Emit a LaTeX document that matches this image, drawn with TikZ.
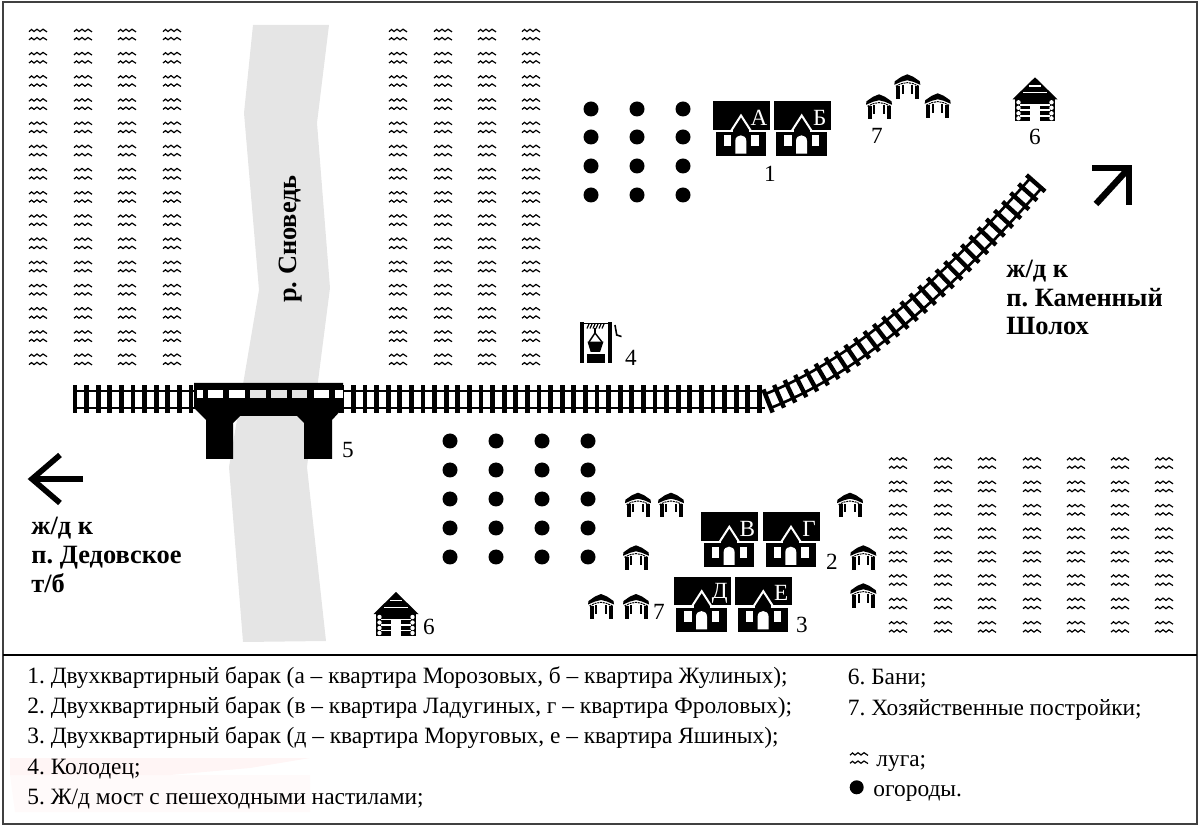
\documentclass[tikz,border=0pt]{standalone}
\usepackage{fontspec}
\setmainfont{Liberation Serif}
\usetikzlibrary{arrows.meta,decorations.markings}
\definecolor{rivergray}{gray}{0.9}
\frenchspacing

\begin{document}
\begin{tikzpicture}[
	x=0.5pt,y=-0.5pt,
	num/.style={font=\fontsize{11.6}{13}\selectfont,inner sep=0pt},
	bigtext/.style={font=\fontsize{13.2}{15}\selectfont\bfseries,anchor=base west,inner sep=0pt},
	legendtext/.style={font=\fontsize{11.69}{13}\selectfont,anchor=base west,inner sep=0pt},
	rails/.style 2 args={line width=#1,double=white,double distance=#2},
	sleepers/.style n args={3}{decoration={markings,mark=between positions 0 and 1 step #1 with {\fill (-#2,-#3) rectangle (#2,#3);}},decorate},
	meadow/.pic={
		\draw[line width=0.6pt] (-9,-2.8)--(-6.5,-5)--(-4,-3)--(-1,-5.3)--(2,-3)--(5,-5.3)--(9,-2.6);
		\draw[line width=0.6pt] (-9,5.3)--(-6.5,3.3)--(-4,5.3)--(-1,3)--(2,5.3)--(5,3)--(9,5.6);
	},
	barak/.pic={
		\fill (0,0) rectangle (57,28.6);
		\fill (2.5,31) rectangle (53,55);
		\fill (20,28) rectangle (36,32);
		\draw[white,line width=1pt] (18,30) -- (28,14.5) -- (38,30);
		\fill[white] (10.7,34.3) rectangle (18,45.3);
		\fill[white] (38.3,34.3) rectangle (45.7,45.3);
		\fill[white] (22.3,52.7) -- (22.3,40) .. controls (22.3,32.5) and (33.3,32.5) .. (33.3,40) -- (33.3,52.7) -- cycle;
		\node[white,font=\fontsize{11.6}{13}\selectfont,inner sep=0pt] (letter) at (46,16.5) {#1};
	},
	shed/.pic={
		\fill (0,0)--(6,2.5)--(12.5,7)--(13,10.5)--(6,7.5)--(0,6)--(-6,7.5)--(-13,10.5)--(-12.5,7)--(-6,2.5)--cycle;
		\draw[line width=0.5pt,dash pattern=on 1pt off 0.4pt] (-11.5,12)--(-6,9.4)--(0,8.3)--(6,9.4)--(11.5,12);
		\fill (-11.3,11.5) rectangle (-7.3,24.7);
		\fill (-5.7,11) rectangle (-3.6,19.7);
		\fill (3.5,11) rectangle (5.6,19.7);
		\fill (7.7,11.5) rectangle (11.7,24.7);
	},
	banya/.pic={
		\fill (0,0)--(22.5,22)--(-22.5,22)--cycle;
		\fill[white] (-6,8) rectangle (6,9.4);
		\fill[white] (-12,14.5) rectangle (12,16);
		\fill (-20,22) rectangle (20,43.5);
		\foreach \y in {27.5,33,38.5}{
			\fill[white] (-15,\y-.8) rectangle (15,\y+.8);
		}
		\foreach \y in {25,30.5,36,41}{
			\fill[white] (-16.5,\y) circle[radius=2.2];
			\fill[white] (16.5,\y) circle[radius=2.2];
		}
		\fill[white] (-5,28) rectangle (5,43.5);
	}
	]

	\useasboundingbox (0,0) rectangle (1200,828);

	% След водяного знака
	\fill[red!2] (10,775)--(310,775)--(310,812)--(15,812)--cycle;
	\fill[red!4] (10,758)--(310,758)--(250,768)--(170,775)--(10,775)--cycle;

	% Река
	\fill[rivergray] (253,25)--(329,25)--(317,123)--(330,288)--(307,467)--(326,641)--(243,642)--(229,467)--(259,290)--(244,113)--cycle;
	\node[bigtext,anchor=center,rotate=90] (river) at (291,239) {р. Сноведь};

	% Луга
	\foreach \x in {38,83,127,172,398,443,487,531}
		\foreach \k in {0,...,14}{
			\pic at (\x,34.5+23.2*\k) {meadow};
		}
	\foreach \x in {898,943,987,1032,1076,1120,1164}
		\foreach \k in {0,...,7}{
			\pic at (\x,463+23.4*\k) {meadow};
		}

	% Огороды
	\foreach \x in {591,637,683}
		\foreach \y in {109,137,166,195}{
			\fill (\x,\y) circle[radius=7.5];
		}
	\foreach \x in {450,496,542,588}
		\foreach \y in {441,470,499,528,557}{
			\fill (\x,\y) circle[radius=7.5];
		}

	% Железная дорога
	\coordinate (railW) at (75,399.5);
	\coordinate (railM) at (765,399.5);
	\coordinate (curveS) at (768,401);
	\coordinate (curveE) at (1036,183);
	\draw[rails={1.3pt}{7.3pt}] (railW) -- (railM);
	\fill[sleepers={5.8pt}{1.2pt}{7pt}] (railW) -- (railM);
	\draw[rails={1.4pt}{6pt}] (curveS) .. controls (850,368) and (930,303) .. (curveE);
	\fill[sleepers={6pt}{1.1pt}{6.2pt}] (curveS) .. controls (850,368) and (930,303) .. (curveE);

	% Мост
	\fill (194,383)--(343,383)--(343,408)--(332,420)--(332,459)--(304,459)--(304,423)--(297,416)--(240,416)--(233,423)--(233,459)--(206,459)--(206,420)--(194,408)--cycle;
	\foreach \a/\b/\c in {197/203/white,208/223/white,229/245/white,250/266/rivergray,271/287/rivergray,292/307/rivergray,314/329/white,335/343/white}{
		\fill[\c] (\a,390) rectangle (\b,398.5);
	}

	% Бараки
	\pic (houseA) at (713,101) {barak=А};
	\pic (houseB) at (773.7,101) {barak=Б};
	\pic (houseV) at (701.3,512.3) {barak=В};
	\pic (houseG) at (763,512.3) {barak=Г};
	\pic (houseD) at (673.7,576.7) {barak=Д};
	\pic (houseE) at (735.3,576.7) {barak=Е};

	% Постройки
	\foreach \x/\y in {879/94.3,907.3/74.3,937.7/93.3,638/492.7,671/492.7,850/492.7,636/545.3,863.3/545.3,601/594,636/594,863.3/583.3}{
		\pic at (\x,\y) {shed};
	}

	% Бани
	\pic at (1035,77.3) {banya};
	\pic at (396,592) {banya};

	% Колодец
	\fill (580,321.7) rectangle (584,363.3);
	\fill (608.3,321.7) rectangle (612.3,363.3);
	\fill (584,323) rectangle (608.3,324.5);
	\foreach \x in {587,590,593,596,599,602}{
		\draw[line width=0.6pt] (\x,328.5) -- (\x+2,324);
	}
	\draw[line width=0.7pt] (595,328) -- (595,334);
	\draw[line width=0.7pt] (589,342) -- (595,333) -- (602,342);
	\fill (587.5,341.7)--(603.5,341.7)--(600,352)--(590.7,352)--cycle;
	\fill (586.7,354.3) rectangle (605,363.3);
	\draw[line width=0.8pt] (615,325)--(616.7,335)--(621.5,336.5);

	% Подписи
	\node[num] (n1) at (770,174) {1};
	\node[num] (n7a) at (877,136) {7};
	\node[num] (n6a) at (1035,137) {6};
	\node[num] (n4) at (631,358) {4};
	\node[num] (n5) at (348,450) {5};
	\node[num] (n6b) at (429,627) {6};
	\node[num] (n7b) at (659,612) {7};
	\node[num] (n2) at (832,562) {2};
	\node[num] (n3) at (802,625) {3};

	\node[bigtext] (toK1) at (1006,278) {ж/д к};
	\node[bigtext] (toK2) at (1006,307) {п. Каменный};
	\node[bigtext] (toK3) at (1006,335) {Шолох};
	\node[bigtext] (toD1) at (31,535) {ж/д к};
	\node[bigtext] (toD2) at (31,564) {п. Дедовское};
	\node[bigtext] (toD3) at (31,593) {т/б};

	% Стрелки
	\coordinate (neS) at (1096,204);
	\coordinate (neE) at (1129,168);
	\draw[line width=3.2pt] (neS) -- (neE);
	\draw[line width=3pt] (1092,168) -- (neE) -- (1129,205);
	\coordinate (wS) at (83,479);
	\coordinate (wE) at (32,479);
	\draw[line width=2.8pt] (wS) -- (wE);
	\draw[line width=2.8pt] (60,455) -- (wE) -- (60,503);

	% Рамка и легенда
	\draw[black!75,line width=1pt] (3,2) rectangle (1197,824);
	\draw[line width=1.2pt] (3,655) -- (1197,655);

	\node[legendtext] (leg1) at (27,683.3) {1. Двухквартирный барак (а – квартира Морозовых, б – квартира Жулиных);};
	\node[legendtext] (leg2) at (27,713.3) {2. Двухквартирный барак (в – квартира Ладугиных, г – квартира Фроловых);};
	\node[legendtext] (leg3) at (27,743.3) {3. Двухквартирный барак (д – квартира Моруговых, е – квартира Яшиных);};
	\node[legendtext] (leg4) at (27,774) {4. Колодец;};
	\node[legendtext] (leg5) at (27,804) {5. Ж/д мост с пешеходными настилами;};
	\node[legendtext] (leg6) at (847.5,684) {6. Бани;};
	\node[legendtext] (leg7) at (847.5,715) {7. Хозяйственные постройки;};
	\pic at (859,758) {meadow};
	\node[legendtext] (leg8) at (876,766.5) {луга;};
	\fill (856.7,787.3) circle[radius=7];
	\node[legendtext] (leg9) at (873,796.5) {огороды.};

\end{tikzpicture}
\end{document}
